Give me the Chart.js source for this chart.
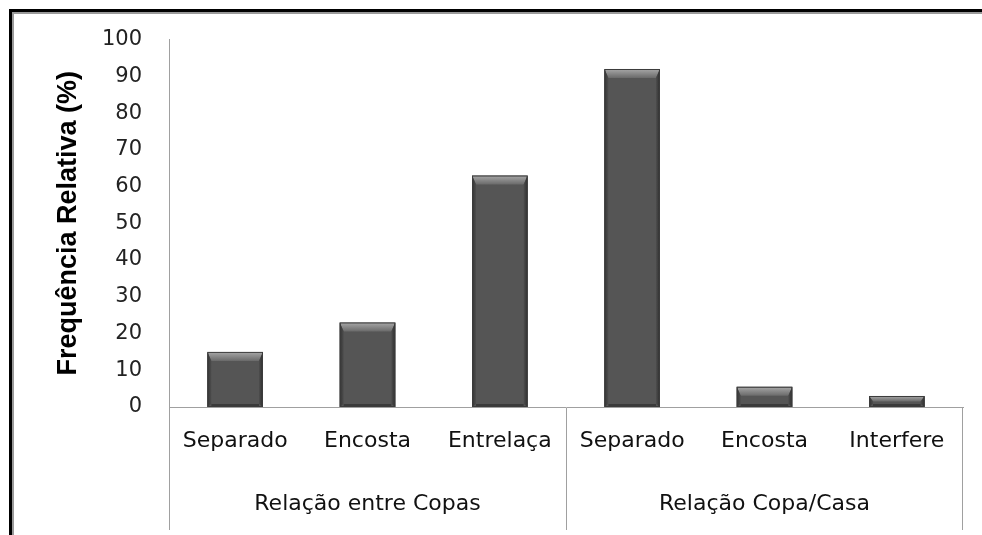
<!DOCTYPE html>
<html>
<head>
<meta charset="utf-8">
<script src="https://cdn.jsdelivr.net/npm/chart.js@4.4.1/dist/chart.umd.min.js"></script>
<style>
  html, body { margin: 0; padding: 0; background: #fff; }
  .wrap { position: relative; width: 982px; height: 535px; overflow: hidden; }
  .frame {
    position: absolute; left: 9px; top: 9px; width: 1100px; height: 700px;
    border-top: 3px solid #000; border-left: 3px solid #000;
    box-shadow: inset 2px 2px 0 #9a9a9a;
  }
  canvas { position: absolute; left: 0; top: 0; }
</style>
</head>
<body>
<div class="wrap">
  <div class="frame"></div>
  <canvas id="chart" width="982" height="535"></canvas>
</div>
<script>
// categories, grouped in threes
const categories = ["Separado", "Encosta", "Entrelaça", "Separado", "Encosta", "Interfere"];
const groups = ["Relação entre Copas", "Relação Copa/Casa"];
// relative frequency (%)
const values = [15, 23, 63, 92, 5.5, 3];
const yTicks = [0, 10, 20, 30, 40, 50, 60, 70, 80, 90, 100];

const axisGray = "#a0a0a0";

// group label goes under the middle category of each group of three
const xLabels = categories.map((c, i) => (i % 3 === 1 ? [c, groups[Math.floor(i / 3)]] : c));

// bevel look on the bars, drawn over the library's bar elements
const bevel = {
  id: "bevel",
  afterDatasetsDraw(chart) {
    const ctx = chart.ctx;
    chart.getDatasetMeta(0).data.forEach((bar) => {
      const l = bar.x - bar.width / 2, r = bar.x + bar.width / 2;
      const t = bar.y, b = bar.base;
      const h = b - t;
      const e = Math.min(9, h / 2);
      const s = 4;
      ctx.save();
      // top face
      let g = ctx.createLinearGradient(0, t, 0, t + e);
      g.addColorStop(0, "#a8a8a8");
      g.addColorStop(1, "#6a6a6a");
      ctx.fillStyle = g;
      ctx.beginPath();
      ctx.moveTo(l, t); ctx.lineTo(r, t); ctx.lineTo(r - s, t + e); ctx.lineTo(l + s, t + e);
      ctx.closePath(); ctx.fill();
      // sides
      g = ctx.createLinearGradient(l, 0, l + s, 0);
      g.addColorStop(0, "#333"); g.addColorStop(1, "#4e4e4e");
      ctx.fillStyle = g;
      ctx.beginPath();
      ctx.moveTo(l, t); ctx.lineTo(l + s, t + e); ctx.lineTo(l + s, b - 3); ctx.lineTo(l, b);
      ctx.closePath(); ctx.fill();
      g = ctx.createLinearGradient(r - s, 0, r, 0);
      g.addColorStop(0, "#4e4e4e"); g.addColorStop(1, "#2e2e2e");
      ctx.fillStyle = g;
      ctx.beginPath();
      ctx.moveTo(r, t); ctx.lineTo(r - s, t + e); ctx.lineTo(r - s, b - 3); ctx.lineTo(r, b);
      ctx.closePath(); ctx.fill();
      // bottom
      ctx.fillStyle = "#3a3a3a";
      ctx.fillRect(l + s, b - 3, r - l - 2 * s, 3);
      ctx.strokeStyle = "#3c3c3c";
      ctx.lineWidth = 1;
      ctx.strokeRect(l + 0.5, t + 0.5, r - l - 1, h - 1);
      ctx.restore();
    });
  }
};

new Chart(document.getElementById("chart"), {
  type: "bar",
  data: {
    labels: xLabels,
    datasets: [{
      data: values,
      backgroundColor: "#555555",
      borderWidth: 0,
      barPercentage: 0.42,
      categoryPercentage: 1
    }]
  },
  options: {
    responsive: false,
    animation: false,
    events: [],
    layout: { padding: { left: 0, top: 38, right: 19, bottom: 0 } },
    plugins: {
      legend: { display: false },
      tooltip: { enabled: false }
    },
    scales: {
      x: {
        offset: true,
        afterFit: (s) => { s.height = 128; },
        border: { display: true, color: axisGray, width: 1 },
        grid: {
          offset: true,
          drawOnChartArea: false,
          drawTicks: true,
          tickLength: 123,
          tickWidth: 1,
          tickColor: (c) => (c.type !== "tick" || c.index % 3 === 0 ? axisGray : "rgba(0,0,0,0)")
        },
        ticks: {
          padding: -120,
          maxRotation: 0,
          autoSkip: false,
          color: "#111",
          font: { family: "DejaVu Sans", size: 22, lineHeight: 2.86 }
        }
      },
      y: {
        min: 0,
        max: 100,
        afterFit: (s) => { s.width = 169; },
        afterBuildTicks: (s) => { s.ticks = yTicks.map((v) => ({ value: v })); },
        border: { display: true, color: axisGray, width: 1 },
        grid: { display: false, drawTicks: false },
        ticks: {
          padding: 27,
          color: "#222",
          font: { family: "DejaVu Sans", size: 21 }
        },
        title: {
          display: true,
          text: "Frequência Relativa (%)",
          color: "#000",
          padding: { top: 52, bottom: 0 },
          font: { family: "Liberation Sans", size: 27, weight: "bold", lineHeight: 1.2 }
        }
      }
    }
  },
  plugins: [bevel]
});
</script>
</body>
</html>
